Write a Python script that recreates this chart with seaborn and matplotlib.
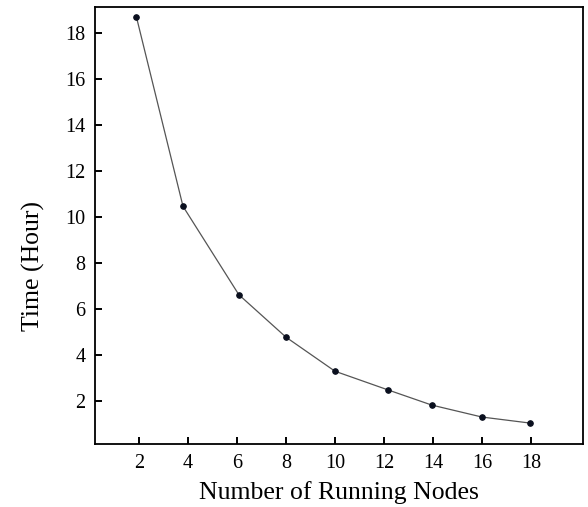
import matplotlib
matplotlib.use("Agg")
import matplotlib.pyplot as plt
import seaborn as sns
import pandas as pd

nodes = [1.9, 3.8, 6.08, 8.0, 10.0, 12.16, 13.95, 16.0, 17.95]
hours = [18.68, 10.46, 6.62, 4.78, 3.30, 2.49, 1.83, 1.31, 1.05]
x_ticks = [2, 4, 6, 8, 10, 12, 14, 16, 18]
y_ticks = [2, 4, 6, 8, 10, 12, 14, 16, 18]

df = pd.DataFrame({"nodes": nodes, "hours": hours})

sns.set_theme(style="white")
plt.rcParams["font.family"] = ["Liberation Serif", "DejaVu Serif"]

fig = plt.figure(figsize=(5.88, 5.07), dpi=100)
ax = fig.add_axes([95 / 588, 1 - 444 / 507, (583 - 95) / 588, (444 - 7.3) / 507])

sns.lineplot(data=df, x="nodes", y="hours", ax=ax, color="#555555", linewidth=0.9,
             marker="o", markersize=4, markerfacecolor="#0a0f1e",
             markeredgecolor="#0a0f1e", sort=False)

ax.set_xlim(0.21, 20.12)
ax.set_ylim(0.14, 19.1)
ax.set_xticks(x_ticks)
ax.set_yticks(y_ticks)
ax.tick_params(direction="in", length=5, width=1.4, labelsize=14.5, pad=7,
               color="black", labelcolor="black", bottom=True, left=True)
for s in ax.spines.values():
    s.set_color("black")
    s.set_linewidth(1.3)
ax.set_xlabel("Number of Running Nodes", fontsize=18.5, labelpad=6, color="black")
ax.set_ylabel("Time (Hour)", fontsize=18.5, color="black")
ax.yaxis.set_label_coords(-0.102, 0.408)

fig.savefig("out.png", dpi=100, facecolor="white")
